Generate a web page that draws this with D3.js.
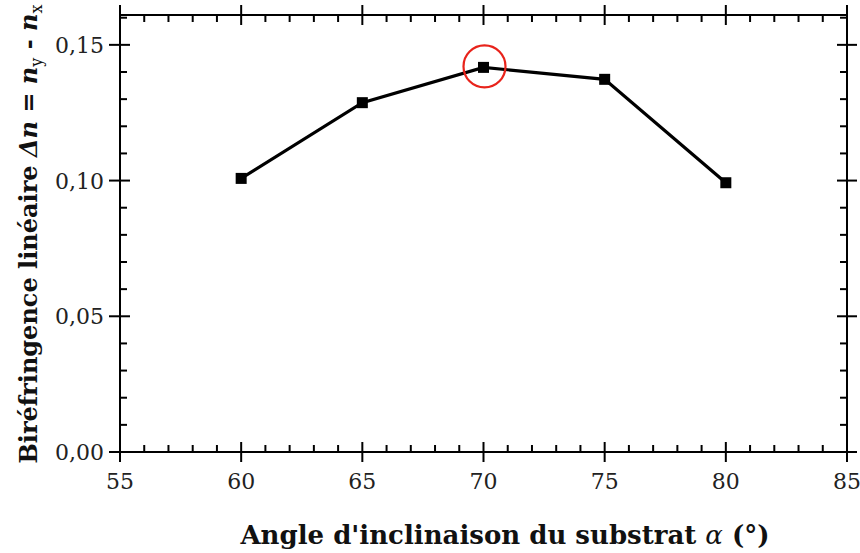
<!DOCTYPE html>
<html><head><meta charset="utf-8">
<script src="https://cdn.jsdelivr.net/npm/d3@7"></script>
<style>body{margin:0;background:#fff}svg{display:block}</style>
</head><body>
<svg id="c" width="860" height="553"></svg>
<script>
const angles = [60, 65, 70, 75, 80];
const birefringence = [0.1008, 0.1287, 0.1417, 0.1373, 0.0992];
const highlightAngle = 70;
const xMajorTicks = [55, 60, 65, 70, 75, 80, 85];
const xTickLabels = ["55", "60", "65", "70", "75", "80", "85"];
const yMajorTicks = [0, 0.05, 0.10, 0.15];
const yTickLabels = ["0,00", "0,05", "0,10", "0,15"];

const L = 120, R = 847, T = 15, B = 452;
const svg = d3.select("#c");
const x = d3.scaleLinear().domain([55, 85]).range([L, R]);
const y = d3.scaleLinear().domain([0, 0.161]).range([B, T]);
const font = "'DejaVu Serif', serif";

const xMinor = d3.range(55, 85.001, 1).filter(v => v % 5 !== 0);
const yMinor = d3.range(0, 0.1601, 0.01).filter((v, i) => i % 5 !== 0);

const g = svg.append("g").attr("stroke", "#000").attr("stroke-width", 2);
g.append("rect").attr("x", L).attr("y", T).attr("width", R - L).attr("height", B - T).attr("fill", "none");
xMajorTicks.forEach(v => {
  g.append("line").attr("x1", x(v)).attr("x2", x(v)).attr("y1", B - 10).attr("y2", B + 10);
  g.append("line").attr("x1", x(v)).attr("x2", x(v)).attr("y1", T - 10).attr("y2", T + 10);
});
xMinor.forEach(v => {
  g.append("line").attr("x1", x(v)).attr("x2", x(v)).attr("y1", B - 7).attr("y2", B);
  g.append("line").attr("x1", x(v)).attr("x2", x(v)).attr("y1", T).attr("y2", T + 7);
});
yMajorTicks.forEach(v => {
  g.append("line").attr("y1", y(v)).attr("y2", y(v)).attr("x1", L - 11).attr("x2", L + 10);
  g.append("line").attr("y1", y(v)).attr("y2", y(v)).attr("x1", R - 10).attr("x2", R + 10);
});
yMinor.forEach(v => {
  g.append("line").attr("y1", y(v)).attr("y2", y(v)).attr("x1", L).attr("x2", L + 7);
  g.append("line").attr("y1", y(v)).attr("y2", y(v)).attr("x1", R - 7).attr("x2", R);
});

svg.append("g").selectAll("text").data(xMajorTicks).join("text")
  .attr("x", d => x(d)).attr("y", 489).attr("text-anchor", "middle")
  .attr("font-family", font).attr("font-size", 22).attr("fill", "#222")
  .text((d, i) => xTickLabels[i]);
svg.append("g").selectAll("text").data(yMajorTicks).join("text")
  .attr("x", 104).attr("y", d => y(d) + 8).attr("text-anchor", "end")
  .attr("font-family", font).attr("font-size", 22).attr("fill", "#222")
  .text((d, i) => yTickLabels[i]);

const line = d3.line().x((d, i) => x(angles[i])).y(d => y(d));
svg.append("path").datum(birefringence).attr("d", line)
  .attr("fill", "none").attr("stroke", "#000").attr("stroke-width", 3.2).attr("stroke-linejoin", "miter");
svg.append("g").selectAll("rect").data(birefringence).join("rect")
  .attr("x", (d, i) => x(angles[i]) - 5.5).attr("y", d => y(d) - 5.5)
  .attr("width", 11).attr("height", 11).attr("fill", "#000");
const hi = angles.indexOf(highlightAngle);
svg.append("circle").attr("cx", x(highlightAngle) + 1).attr("cy", y(birefringence[hi]) - 1).attr("r", 21)
  .attr("fill", "none").attr("stroke", "#e8231b").attr("stroke-width", 2.2);

svg.append("text").attr("x", 505).attr("y", 544).attr("text-anchor", "middle")
  .attr("font-family", font).attr("font-size", 26).attr("font-weight", "bold").attr("fill", "#111")
  .html("Angle d'inclinaison du substrat <tspan font-style='italic' font-weight='normal'>α</tspan> (°)");

const yt = svg.append("text").attr("transform", "translate(37,234) rotate(-90)")
  .attr("text-anchor", "middle").attr("font-family", font).attr("font-size", 24)
  .attr("font-weight", "bold").attr("fill", "#111");
yt.append("tspan").text("Biréfringence linéaire ");
yt.append("tspan").attr("font-style", "italic").text("Δn");
yt.append("tspan").text(" = ");
yt.append("tspan").attr("font-style", "italic").text("n");
yt.append("tspan").attr("font-size", 16).attr("font-weight", "normal").attr("dy", 5).text("y");
yt.append("tspan").attr("dy", -5).text(" - ");
yt.append("tspan").attr("font-style", "italic").text("n");
yt.append("tspan").attr("font-size", 16).attr("font-weight", "normal").attr("dy", 5).text("x");
</script>
</body></html>
